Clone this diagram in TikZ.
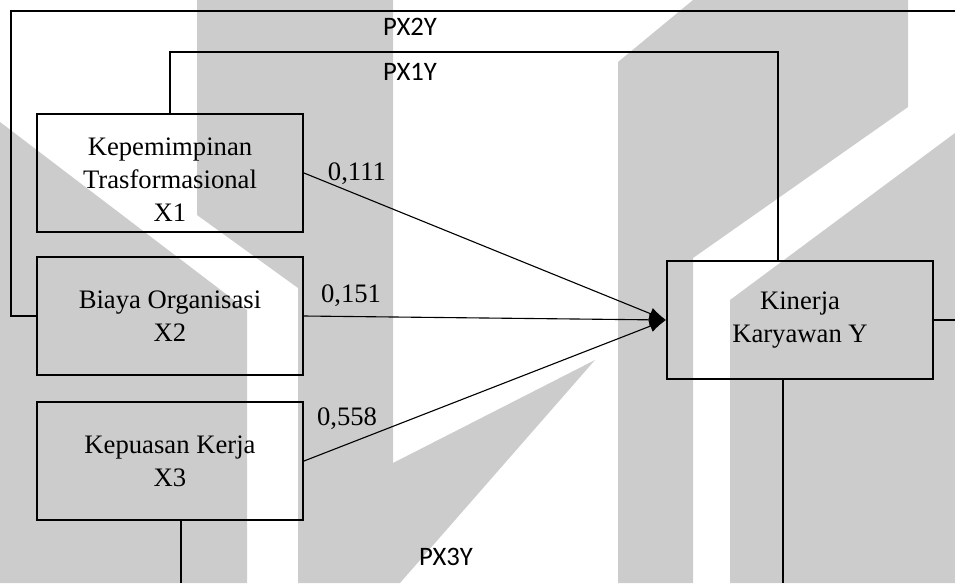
\documentclass[tikz,border=0pt]{standalone}
\usepackage{fontspec}
\setmainfont{Liberation Serif}
\newfontfamily\calibri{Carlito}
\usepackage{tikz}
\usetikzlibrary{arrows.meta}
\definecolor{wmgray}{RGB}{204,204,204}
\tikzstyle{varbox}=[rectangle, draw, line width=0.9pt, minimum width=119.7pt, minimum height=53.1pt, inner sep=0pt, align=center, font=\fontsize{12pt}{14.8pt}\selectfont]
\tikzstyle{coef}=[anchor=base, inner sep=0pt, font=\fontsize{12pt}{14.8pt}\selectfont]
\tikzstyle{pathname}=[inner sep=0pt, font=\calibri\fontsize{12pt}{14.4pt}\selectfont]
\tikzstyle{effect}=[-{Latex[length=7.5pt, width=5.5pt]}]
\tikzstyle{logo}=[fill=wmgray, draw=none]

\begin{document}
\begin{tikzpicture}[x=0.45pt, y=-0.45pt, line width=0.5pt]
    \useasboundingbox (0,0) rectangle (955,583);
    % logo in the background
    \fill[logo] (0,122) -- (247,310) -- (247,583) -- (0,583) -- cycle;
    \fill[logo] (197,0) -- (393,0) -- (393,463) -- (595,360) -- (400,583) -- (298,583) -- (298,288) -- (197,215) -- cycle;
    \fill[logo] (618,62) -- (693,0) -- (908,0) -- (908,107) -- (693,258) -- (693,583) -- (618,583) -- cycle;
    \fill[logo] (730,300) -- (955,133) -- (955,583) -- (730,583) -- cycle;

    \node[varbox] (x1) at (170,173) {\rule{0pt}{14pt}Kepemimpinan\\Trasformasional\\X1};
    \node[varbox] (x2) at (170,316) {Biaya Organisasi\\X2};
    \node[varbox] (x3) at (170,461) {Kepuasan Kerja\\X3};
    \node[varbox] (y) at (800,320) {Kinerja\\Karyawan Y};

    \coordinate (px2a) at (11,11);
    \coordinate (px2b) at (955,11);
    \coordinate (px2c) at (955,317);
    \coordinate (px1a) at (778,52);
    \coordinate (px3a) at (181,583);
    \coordinate (px3b) at (783,583);

    \draw[effect] (x1.east) -- (y.west);
    \draw[effect] (x2.east) -- (y.west);
    \draw[effect] (x3.east) -- (y.west);
    \draw (x2.west) -| (px2a) -- (px2b);
    \draw (y.east) -- (y.east -| px2c);
    \draw (x1.north) |- (px1a) -- (px1a |- y.north);
    \draw (px3a |- x3.south) -- (px3a);
    \draw (px3b |- y.south) -- (px3b);

    \node[coef] (b1) at (357,180) {0,111};
    \node[coef] (b2) at (351,302) {0,151};
    \node[coef] (b3) at (347,425) {0,558};
    \node[pathname] (px2) at (410,27) {PX2Y};
    \node[pathname] (px1) at (410,72) {PX1Y};
    \node[pathname] (px3) at (446,557) {PX3Y};
\end{tikzpicture}
\end{document}
